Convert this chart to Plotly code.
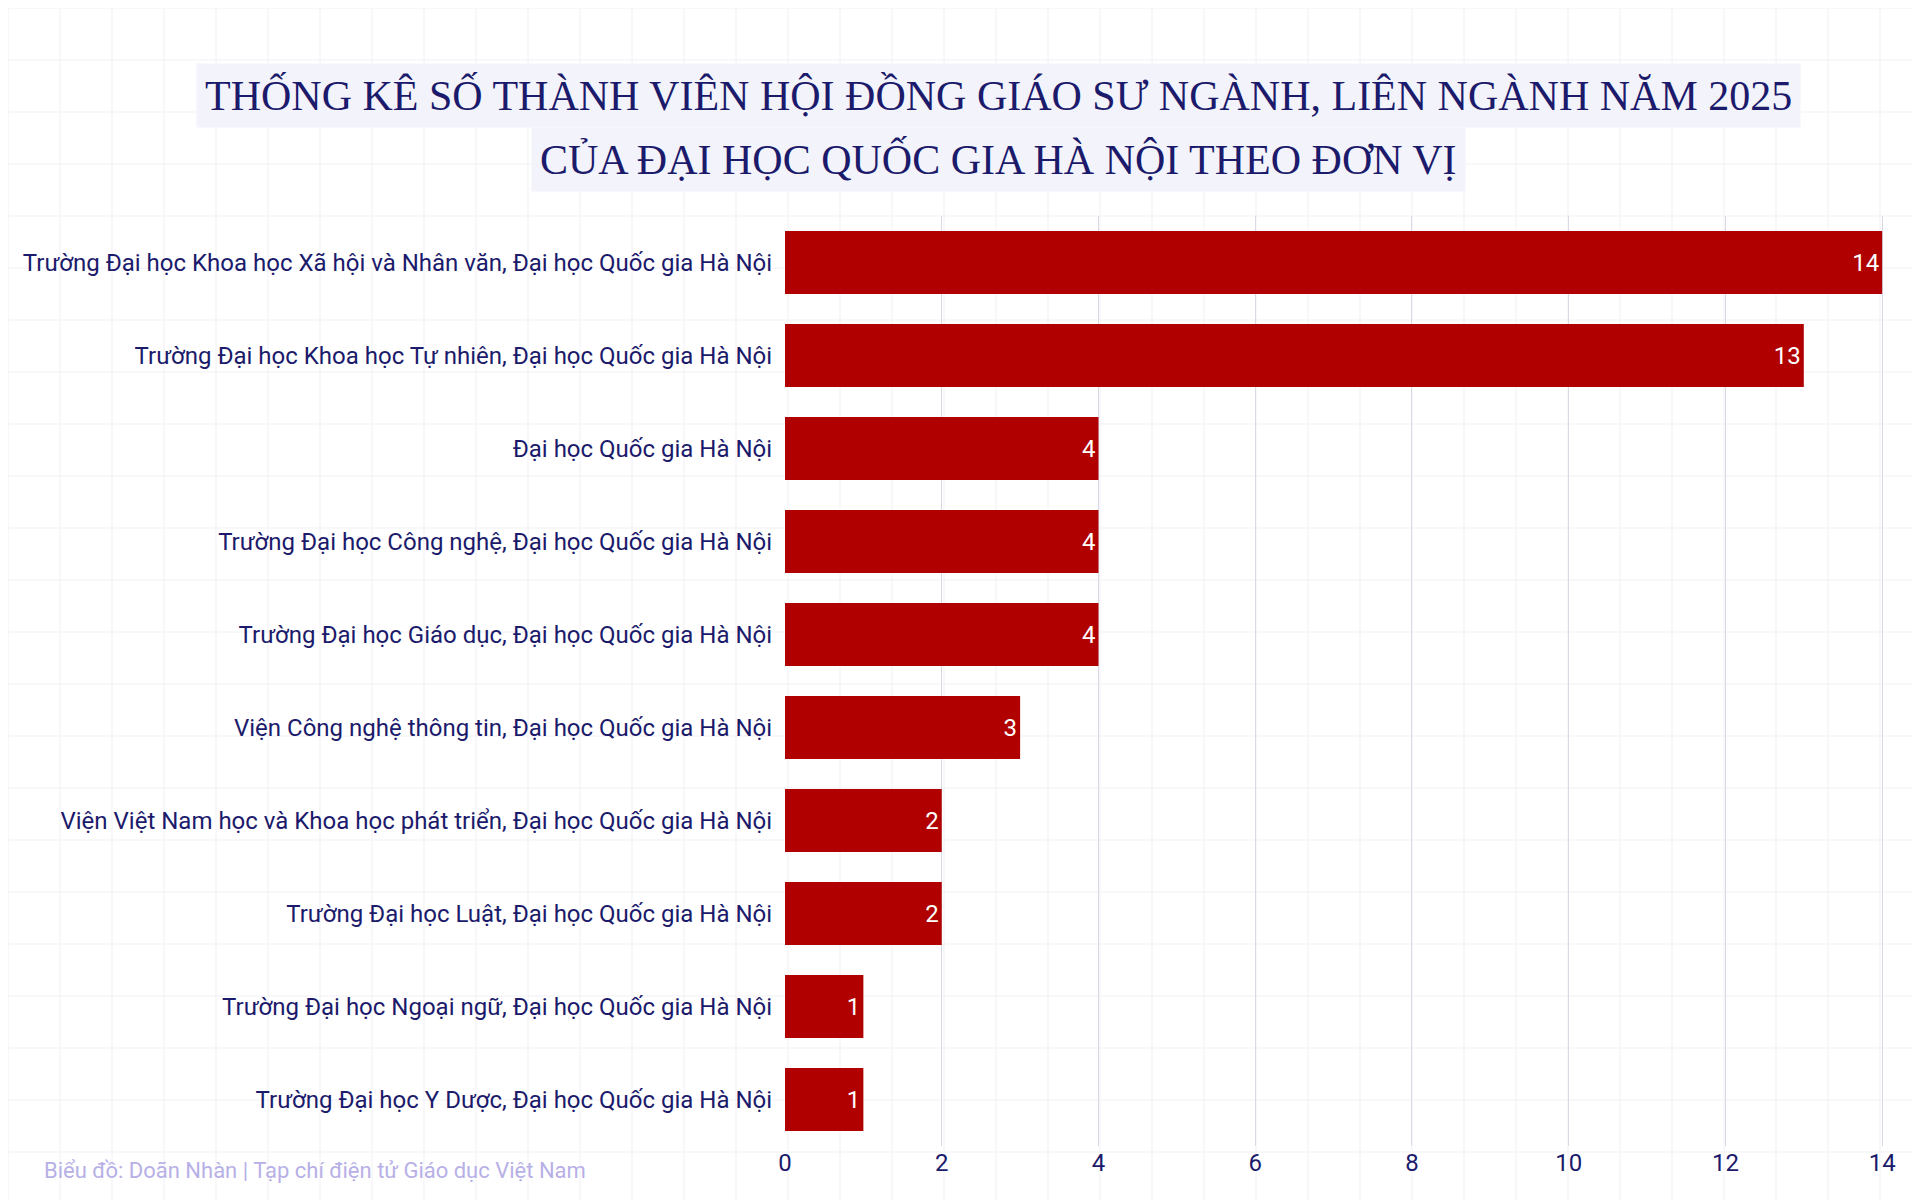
import plotly.graph_objects as go

units = [
    "Trường Đại học Khoa học Xã hội và Nhân văn, Đại học Quốc gia Hà Nội",
    "Trường Đại học Khoa học Tự nhiên, Đại học Quốc gia Hà Nội",
    "Đại học Quốc gia Hà Nội",
    "Trường Đại học Công nghệ, Đại học Quốc gia Hà Nội",
    "Trường Đại học Giáo dục, Đại học Quốc gia Hà Nội",
    "Viện Công nghệ thông tin, Đại học Quốc gia Hà Nội",
    "Viện Việt Nam học và Khoa học phát triển, Đại học Quốc gia Hà Nội",
    "Trường Đại học Luật, Đại học Quốc gia Hà Nội",
    "Trường Đại học Ngoại ngữ, Đại học Quốc gia Hà Nội",
    "Trường Đại học Y Dược, Đại học Quốc gia Hà Nội",
]
members = [14, 13, 4, 4, 4, 3, 2, 2, 1, 1]
title_lines = ["THỐNG KÊ SỐ THÀNH VIÊN HỘI ĐỒNG GIÁO SƯ NGÀNH, LIÊN NGÀNH NĂM 2025",
               "CỦA ĐẠI HỌC QUỐC GIA HÀ NỘI THEO ĐƠN VỊ"]

navy = "#1b1a6b"
label_font = "Liberation Sans Narrow, Roboto, sans-serif"

L, R, T, B = 777, 38, 208, 62
PW, PH = 1920 - L - R, 1200 - T - B

fig = go.Figure(go.Bar(
    x=members, y=units, orientation="h",
    marker=dict(color="#b00000", line=dict(width=0)),
    width=0.68,
    text=members, textposition="inside", insidetextanchor="end",
    textfont=dict(color="white", size=24, family=label_font),
))

# faint background grid
shapes = []
for i in range(0, 1921, 52):
    shapes.append(dict(type="line", xref="paper", yref="paper", layer="below",
                       x0=(i - L) / PW, x1=(i - L) / PW, y0=-2, y1=2,
                       line=dict(color="#f1f1f6", width=1)))
for j in range(0, 1201, 52):
    shapes.append(dict(type="line", xref="paper", yref="paper", layer="below",
                       x0=-2, x1=2, y0=(1200 - B - j) / PH, y1=(1200 - B - j) / PH,
                       line=dict(color="#f1f1f6", width=1)))

fig.update_layout(
    width=1920, height=1200,
    paper_bgcolor="white", plot_bgcolor="rgba(0,0,0,0)",
    margin=dict(l=L, r=R, t=T, b=B),
    showlegend=False,
    shapes=shapes,
    xaxis=dict(range=[0, 14.1], dtick=2, showgrid=True, gridcolor="#d9d9e6",
               zeroline=False, tickfont=dict(size=24, color=navy, family=label_font),
               ticks="", ticklen=0),
    yaxis=dict(autorange="reversed", tickfont=dict(size=24, color=navy, family=label_font),
               ticksuffix="  ", showgrid=False),
)

fig.add_annotation(text="Biểu đồ: Doãn Nhàn | Tạp chí điện tử Giáo dục Việt Nam",
                   xref="paper", yref="paper", x=(34 - L) / PW, y=(1200 - B - 1162) / PH,
                   xanchor="left", yanchor="middle", showarrow=False,
                   font=dict(size=22, color="#b7b0e6", family="Roboto, sans-serif"))

for text, ypix in zip(title_lines, [88, 152]):
    fig.add_annotation(text=text, xref="paper", yref="paper",
                       x=(990 - L) / PW, y=(1200 - B - ypix) / PH,
                       showarrow=False, xanchor="center", yanchor="middle",
                       bgcolor="#f3f3fb", borderpad=8,
                       font=dict(size=42, color=navy, family="Liberation Serif, serif"))

fig.write_html("out.html")
